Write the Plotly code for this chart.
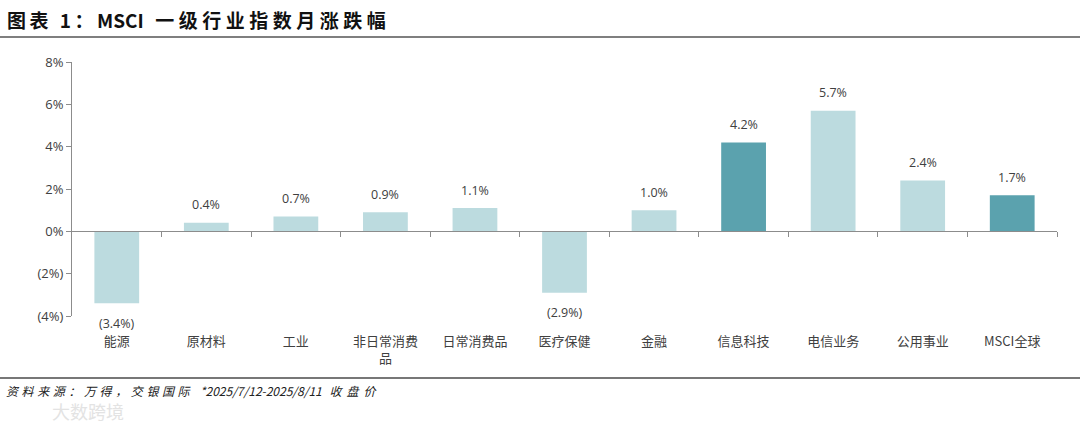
import plotly.graph_objects as go

categories = ["能源", "原材料", "工业", "非日常消费品", "日常消费品", "医疗保健",
              "金融", "信息科技", "电信业务", "公用事业", "MSCI全球"]
tick_labels = ["能源", "原材料", "工业", "非日常消费<br>品", "日常消费品", "医疗保健",
               "金融", "信息科技", "电信业务", "公用事业", "MSCI全球"]
values = [-3.4, 0.4, 0.7, 0.9, 1.1, -2.9, 1.0, 4.2, 5.7, 2.4, 1.7]
highlight = [False, False, False, False, False, False, False, True, False, False, True]
y_ticks = [-4, -2, 0, 2, 4, 6, 8]
y_tick_labels = ["(4%)", "(2%)", "0%", "2%", "4%", "6%", "8%"]

LIGHT = "#BCDBDF"
DARK = "#5BA2AE"
W, H = 1080, 431
ML, MR, MT, MB = 72, 23, 62, 115
pw, ph = W - ML - MR, H - MT - MB
NB = "\u00a0"


def fmt(v):
    return f"({abs(v):.1f}%)" if v < 0 else f"{v:.1f}%"


def px_x(x):
    return (x - ML) / pw


def px_y(y):
    return (H - MB - y) / ph


def spaced(s, px):
    return f'<span style="letter-spacing:{px}px">{s}</span>'


ymin, ymax = y_ticks[0], y_ticks[-1]
zero_pos = (0 - ymin) / (ymax - ymin)

font_cjk = "Noto Sans CJK SC, Microsoft YaHei, sans-serif"
font_num = "Open Sans, Calibri, sans-serif"

xs = list(range(len(categories)))

fig = go.Figure()
fig.add_trace(go.Bar(
    x=xs, y=values,
    marker=dict(color=[DARK if h else LIGHT for h in highlight], line=dict(width=0)),
    width=0.5,
    hoverinfo="skip",
))
# invisible trace to activate the zero-line axis
fig.add_trace(go.Scatter(x=[-0.5, len(categories) - 0.5], y=[0, 0], xaxis="x2",
                         mode="lines", line=dict(width=0), hoverinfo="skip", showlegend=False))

value_labels = [
    dict(x=x, y=v, xref="x", yref="y", text=fmt(v), showarrow=False,
         yanchor="middle", yshift=(18 if v >= 0 else -20),
         font=dict(family=font_num, size=12.5, color="#404040"))
    for x, v in zip(xs, values)
]

title_text = ("<b>" + spaced("图表" + NB + "1：", 3.5) + "MSCI" + spaced(NB, 7)
              + spaced("一级行业指数月涨跌幅", 4.5) + "</b>")
source_text = ("<i>" + spaced("资料来源：万得，交银国际", 3.6) + spaced(NB, 4)
               + "*2025/7/12-2025/8/11" + spaced(NB, 5) + spaced("收盘价", 5) + "</i>")

fig.update_layout(
    width=W, height=H,
    margin=dict(l=ML, r=MR, t=MT, b=MB),
    paper_bgcolor="white", plot_bgcolor="white",
    showlegend=False,
    xaxis=dict(
        range=[-0.5, len(categories) - 0.5],
        tickmode="array", tickvals=xs, ticktext=tick_labels,
        showline=False, ticks="", showgrid=False, zeroline=False,
        ticklabelstandoff=16,
        tickfont=dict(family=font_cjk, size=13, color="#404040"),
    ),
    xaxis2=dict(
        overlaying="x", anchor="free", position=zero_pos,
        range=[-0.5, len(categories) - 0.5],
        tickmode="array", tickvals=[i + 0.5 for i in xs],
        showticklabels=False, ticks="outside", ticklen=5, tickcolor="#8C8C8C",
        showline=True, linecolor="#8C8C8C", linewidth=1, showgrid=False, zeroline=False,
    ),
    yaxis=dict(
        range=[ymin, ymax],
        tickmode="array", tickvals=y_ticks, ticktext=y_tick_labels,
        showline=True, linecolor="#8C8C8C", linewidth=1,
        ticks="outside", ticklen=5, tickcolor="#8C8C8C",
        showgrid=False, zeroline=False,
        tickfont=dict(family=font_num, size=13, color="#404040"),
    ),
    shapes=[
        dict(type="line", xref="paper", yref="paper", x0=px_x(0), x1=px_x(W),
             y0=px_y(37), y1=px_y(37), line=dict(color="#555555", width=1.5)),
        dict(type="line", xref="paper", yref="paper", x0=px_x(0), x1=px_x(W),
             y0=px_y(378), y1=px_y(378), line=dict(color="#777777", width=2)),
    ],
    annotations=value_labels + [
        dict(text=title_text, xref="paper", yref="paper",
             x=px_x(5), y=px_y(19), xanchor="left", yanchor="middle", showarrow=False,
             font=dict(family=font_cjk, size=19, color="#111111")),
        dict(text=source_text, xref="paper", yref="paper",
             x=px_x(4), y=px_y(390), xanchor="left", yanchor="middle", showarrow=False,
             font=dict(family=font_cjk, size=12, color="#222222")),
        dict(text="大数跨境", xref="paper", yref="paper",
             x=px_x(50), y=px_y(411), xanchor="left", yanchor="middle", showarrow=False,
             font=dict(family=font_cjk, size=18, color="#E3E3E3")),
    ],
)

fig.write_html("out.html", config={"displayModeBar": False},
               post_script="document.body.style.margin='0';document.body.style.overflow='hidden';")
